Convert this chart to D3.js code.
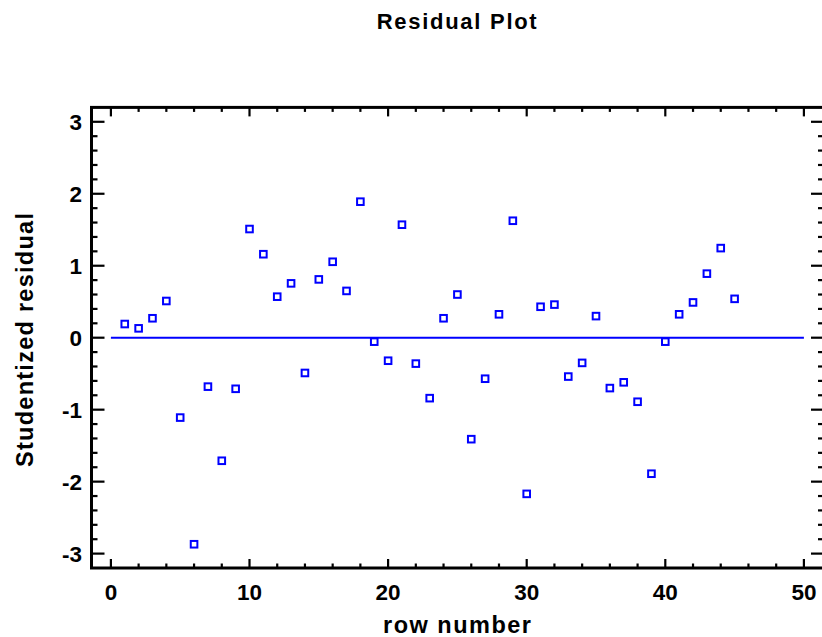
<!DOCTYPE html>
<html>
<head>
<meta charset="utf-8">
<script src="https://cdn.jsdelivr.net/npm/d3@7"></script>
<style>
html,body{margin:0;padding:0;background:#fff;}
svg{display:block;}
text{font-family:Arial,"Liberation Sans",sans-serif;font-weight:bold;fill:#000;}
</style>
</head>
<body>
<svg id="chart" width="822" height="637"></svg>
<script>
const titleText = "Residual Plot";
const xTitle = "row number";
const yTitle = "Studentized residual";
const rows = d3.range(1, 46);
const residuals = [
  0.19, 0.13, 0.27, 0.51, -1.11, -2.87, -0.68, -1.71, -0.71, 1.51,
  1.16, 0.57, 0.755, -0.49, 0.81, 1.055, 0.65, 1.89, -0.055, -0.32,
  1.57, -0.36, -0.84, 0.27, 0.60, -1.41, -0.57, 0.325, 1.625, -2.17,
  0.43, 0.46, -0.54, -0.35, 0.30, -0.70, -0.62, -0.89, -1.89, -0.055,
  0.325, 0.49, 0.89, 1.245, 0.54
];
const xTicks = [0, 10, 20, 30, 40, 50];
const yTicks = [-3, -2, -1, 0, 1, 2, 3];
const xDomain = [-1.4, 51.45];
const yDomain = [-3.2, 3.2];

const svg = d3.select("#chart");
const x = d3.scaleLinear().domain(xDomain).range([91.5, 824]);
const y = d3.scaleLinear().domain(yDomain).range([568, 107.4]);

const xMinor = d3.range(0, 51, 2).filter(v => v % 10 !== 0);
const yMinor = d3.range(-32, 33, 2).map(v => v / 10).filter(v => Math.abs(v - Math.round(v)) > 1e-9 && v > yDomain[0] && v < yDomain[1]);

// zero reference line
svg.append("line")
  .attr("x1", x(0)).attr("x2", x(50))
  .attr("y1", y(0)).attr("y2", y(0))
  .attr("stroke", "#0000ff").attr("stroke-width", 2);

// axes with inward ticks
const axisG = svg.append("g").attr("stroke", "#000");
function ticks(vals, len, side) {
  vals.forEach(v => {
    let l = axisG.append("line").attr("stroke-width", 2.2);
    if (side === "bottom") l.attr("x1", x(v)).attr("x2", x(v)).attr("y1", y(yDomain[0])).attr("y2", y(yDomain[0]) - len);
    if (side === "top") l.attr("x1", x(v)).attr("x2", x(v)).attr("y1", y(yDomain[1])).attr("y2", y(yDomain[1]) + len);
    if (side === "left") l.attr("y1", y(v)).attr("y2", y(v)).attr("x1", x(xDomain[0])).attr("x2", x(xDomain[0]) + len);
    if (side === "right") l.attr("y1", y(v)).attr("y2", y(v)).attr("x1", x(xDomain[1])).attr("x2", x(xDomain[1]) - len);
  });
}
ticks(xTicks, 9, "bottom"); ticks(xMinor, 4.5, "bottom");
ticks(xTicks, 9, "top"); ticks(xMinor, 4.5, "top");
ticks(yTicks, 13, "left"); ticks(yMinor, 6, "left");
ticks(yTicks, 13, "right"); ticks(yMinor, 6, "right");

svg.append("rect")
  .attr("x", x(xDomain[0])).attr("y", y(yDomain[1]))
  .attr("width", x(xDomain[1]) - x(xDomain[0]))
  .attr("height", y(yDomain[0]) - y(yDomain[1]))
  .attr("fill", "none").attr("stroke", "#000").attr("stroke-width", 3);

// tick labels
svg.append("g").selectAll("text").data(xTicks).join("text")
  .attr("x", d => x(d)).attr("y", 600)
  .attr("text-anchor", "middle").attr("font-size", 22.5)
  .text(d => d);
svg.append("g").selectAll("text").data(yTicks).join("text")
  .attr("x", 82).attr("y", d => y(d)).attr("dy", "0.36em")
  .attr("text-anchor", "end").attr("font-size", 22.5)
  .text(d => d);

// markers
svg.append("g").selectAll("rect").data(rows).join("rect")
  .attr("x", (d, i) => x(d) - 3.3).attr("y", (d, i) => y(residuals[i]) - 3.3)
  .attr("width", 6.6).attr("height", 6.6)
  .attr("fill", "#fff").attr("stroke", "#0000ff").attr("stroke-width", 2);

// titles
svg.append("text").attr("x", 456.7).attr("y", 29)
  .attr("text-anchor", "middle").attr("font-size", 22)
  .attr("textLength", 160).attr("lengthAdjust", "spacing")
  .text(titleText);
svg.append("text").attr("x", 457).attr("y", 633)
  .attr("text-anchor", "middle").attr("font-size", 23.5)
  .attr("textLength", 148).attr("lengthAdjust", "spacing")
  .text(xTitle);
svg.append("text")
  .attr("transform", "translate(33,340) rotate(-90)")
  .attr("text-anchor", "middle").attr("font-size", 23.5)
  .attr("textLength", 254).attr("lengthAdjust", "spacing")
  .text(yTitle);
</script>
</body>
</html>
